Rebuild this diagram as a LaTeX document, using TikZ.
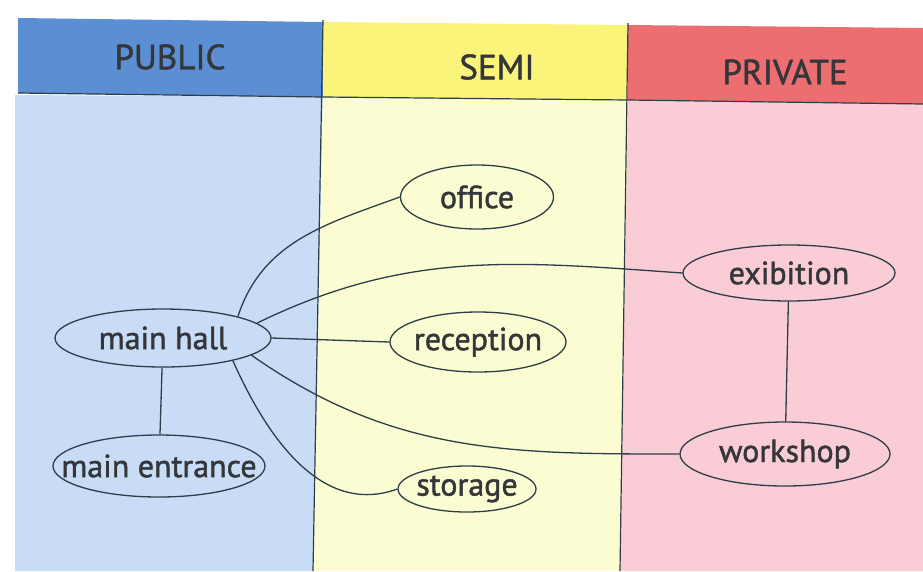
\documentclass[tikz,border=0pt]{standalone}
\usepackage{fontspec}
\setmainfont{PT Sans}
\newfontfamily\semib{PT Sans}[FakeBold=1.4]
\usetikzlibrary{shapes.geometric}
\definecolor{pubhead}{RGB}{92,142,212}
\definecolor{pubbody}{RGB}{200,220,246}
\definecolor{semihead}{RGB}{250,244,122}
\definecolor{semibody}{RGB}{252,252,210}
\definecolor{privhead}{RGB}{236,110,112}
\definecolor{privbody}{RGB}{250,204,214}
\definecolor{ink}{RGB}{45,62,72}
\definecolor{txt}{RGB}{52,54,58}
\newcommand\roomtext[1]{\makebox[0pt]{#1}}
\begin{document}
\begin{tikzpicture}[x=1pt,y=-1pt,
  room/.style={ellipse, draw=ink, line width=1.3pt, inner sep=0pt, text=txt,
    font=\semib\fontsize{32}{34}\selectfont},
  head/.style={text=txt, font=\semib\fontsize{35}{38}\selectfont},
  link/.style={draw=ink, line width=1.3pt},
  divider/.style={draw=ink, line width=1.2pt}]
\useasboundingbox (0,0) rectangle (923,571);
\fill[white] (0,0) rectangle (923,571);
% column backgrounds
\fill[pubbody] (15,95) -- (323,97) -- (313,571) -- (15,571) -- cycle;
\fill[pubhead] (18,18) -- (323,22) -- (323,97) -- (18,93) -- cycle;
\fill[semibody] (323,97) -- (628,100) -- (620,571) -- (313,571) -- cycle;
\fill[semihead] (323,22) -- (628,25) -- (628,100) -- (323,97) -- cycle;
\fill[privbody] (628,100) -- (923,104) -- (923,571) -- (620,571) -- cycle;
\fill[privhead] (628,25) -- (923,28) -- (923,104) -- (628,100) -- cycle;
\draw[divider] (18,93) -- (323,97) -- (628,100) -- (923,104);
\draw[divider] (323,20) -- (313,571);
\draw[divider] (628,23) -- (620,571);
% headers
\node[head] (hpub) at (170,57) {PUBLIC};
\node[head] (hsemi) at (497,67) {SEMI};
\node[head] (hpriv) at (785,72) {PRIVATE};
% rooms
\node[room, minimum width=216pt, minimum height=58pt] (mh) at (163,338) {\roomtext{main hall}};
\node[room, minimum width=212pt, minimum height=62pt] (me) at (159,466) {\roomtext{main entrance}};
\node[room, minimum width=153pt, minimum height=64pt] (of) at (477,197) {\roomtext{office}};
\node[room, minimum width=176pt, minimum height=60pt] (re) at (478,342) {\roomtext{reception}};
\node[room, minimum width=138pt, minimum height=46pt] (st) at (467,489) {\roomtext{storage}};
\node[room, minimum width=212pt, minimum height=56pt] (ex) at (789,273) {\roomtext{exibition}};
\node[room, minimum width=210pt, minimum height=64pt] (ws) at (785,454) {\roomtext{workshop}};
% connectors
\draw[link] (mh) -- (me);
\draw[link] (ex) -- (ws);
\draw[link] (mh.east) -- (re.west);
\draw[link] (mh.16) to[out=72, in=200] (of.west);
\draw[link] (mh.9) to[out=26, in=176] (ex.west);
\draw[link] (mh.-11) to[out=-35, in=180] (ws.west);
\draw[link] (mh.-18) to[out=-66, in=200] (st.west);
\end{tikzpicture}
\end{document}
